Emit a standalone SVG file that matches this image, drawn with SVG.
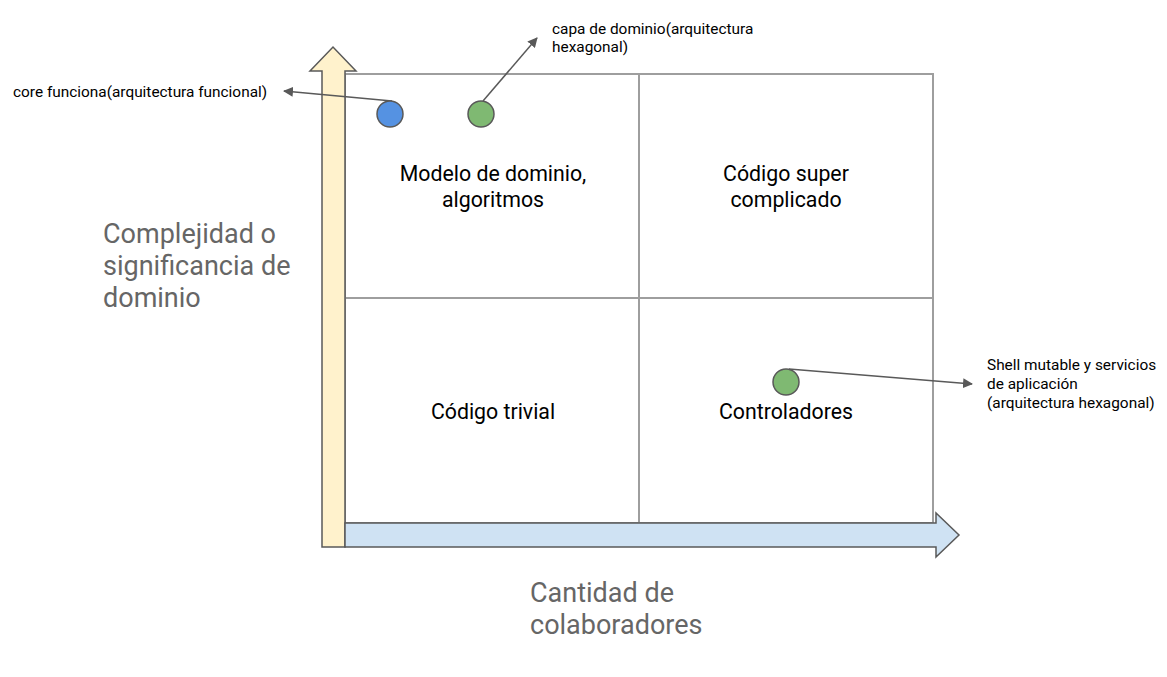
<svg xmlns="http://www.w3.org/2000/svg" width="1167" height="677" viewBox="0 0 1167 677">
<defs>
<marker id="ah" viewBox="0 0 10 10" refX="9" refY="5" markerWidth="10" markerHeight="10" markerUnits="userSpaceOnUse" orient="auto">
<path d="M0,0 L10,5 L0,10 z" fill="#595959"/>
</marker>
<style>
.t{font-family:Roboto,"Liberation Sans",sans-serif;fill:#000}
.s{font-size:15.4px}
.q{font-size:21.3px;text-anchor:middle}
.ax{font-size:27px;fill:#666}
.grid{fill:none;stroke:#9e9e9e;stroke-width:2}
.c{stroke:#595959;stroke-width:1.5;fill:none}
.dot{stroke:#595959;stroke-width:1.5}
</style>
</defs>
<rect width="1167" height="677" fill="#fff"/>
<g id="grid">
<rect class="grid" x="345" y="74" width="588" height="449"/>
<line class="grid" x1="639" y1="74" x2="639" y2="523"/>
<line class="grid" x1="345" y1="298" x2="933" y2="298"/>
</g>
<g id="y-axis">
<path d="M322,547 L322,71 L310,71 L333,47 L356,71 L345,71 L345,547 Z" fill="#fff2cc" stroke="#595959" stroke-width="1.5"/>
</g>
<g id="x-axis">
<path d="M345,523 L936,523 L936,513 L959,535 L936,557 L936,547 L345,547 Z" fill="#cfe2f3" stroke="#595959" stroke-width="1.5"/>
</g>
<g id="connectors">
<line class="c" x1="392" y1="101" x2="284" y2="91" marker-end="url(#ah)"/>
<line class="c" x1="483" y1="101" x2="537" y2="38" marker-end="url(#ah)"/>
<line class="c" x1="789" y1="369" x2="972" y2="384" marker-end="url(#ah)"/>
</g>
<g id="dot-core"><circle class="dot" cx="390" cy="114" r="13" fill="#5592e2"/></g>
<g id="dot-domain"><circle class="dot" cx="481" cy="114" r="13" fill="#7fb972"/></g>
<g id="dot-shell"><circle class="dot" cx="786" cy="382" r="13" fill="#7fb972"/></g>
<g id="q1"><text class="t q" x="493" y="181">Modelo de dominio,</text><text class="t q" x="493" y="207">algoritmos</text></g>
<g id="q2"><text class="t q" x="786" y="181">Código super</text><text class="t q" x="786" y="207">complicado</text></g>
<g id="q3"><text class="t q" x="493" y="419">Código trivial</text></g>
<g id="q4"><text class="t q" x="786" y="419">Controladores</text></g>
<g id="label-core"><text class="t s" x="13" y="97">core funciona(arquitectura funcional)</text></g>
<g id="label-domain"><text class="t s" x="552" y="34">capa de dominio(arquitectura</text><text class="t s" x="552" y="52">hexagonal)</text></g>
<g id="label-shell"><text class="t s" x="987" y="370">Shell mutable y servicios</text><text class="t s" x="987" y="389">de aplicación</text><text class="t s" x="987" y="408">(arquitectura hexagonal)</text></g>
<g id="axis-y-label"><text class="t ax" x="103" y="243">Complejidad o</text><text class="t ax" x="103" y="275">significancia de</text><text class="t ax" x="103" y="307">dominio</text></g>
<g id="axis-x-label"><text class="t ax" x="530" y="602">Cantidad de</text><text class="t ax" x="530" y="634">colaboradores</text></g>
</svg>
